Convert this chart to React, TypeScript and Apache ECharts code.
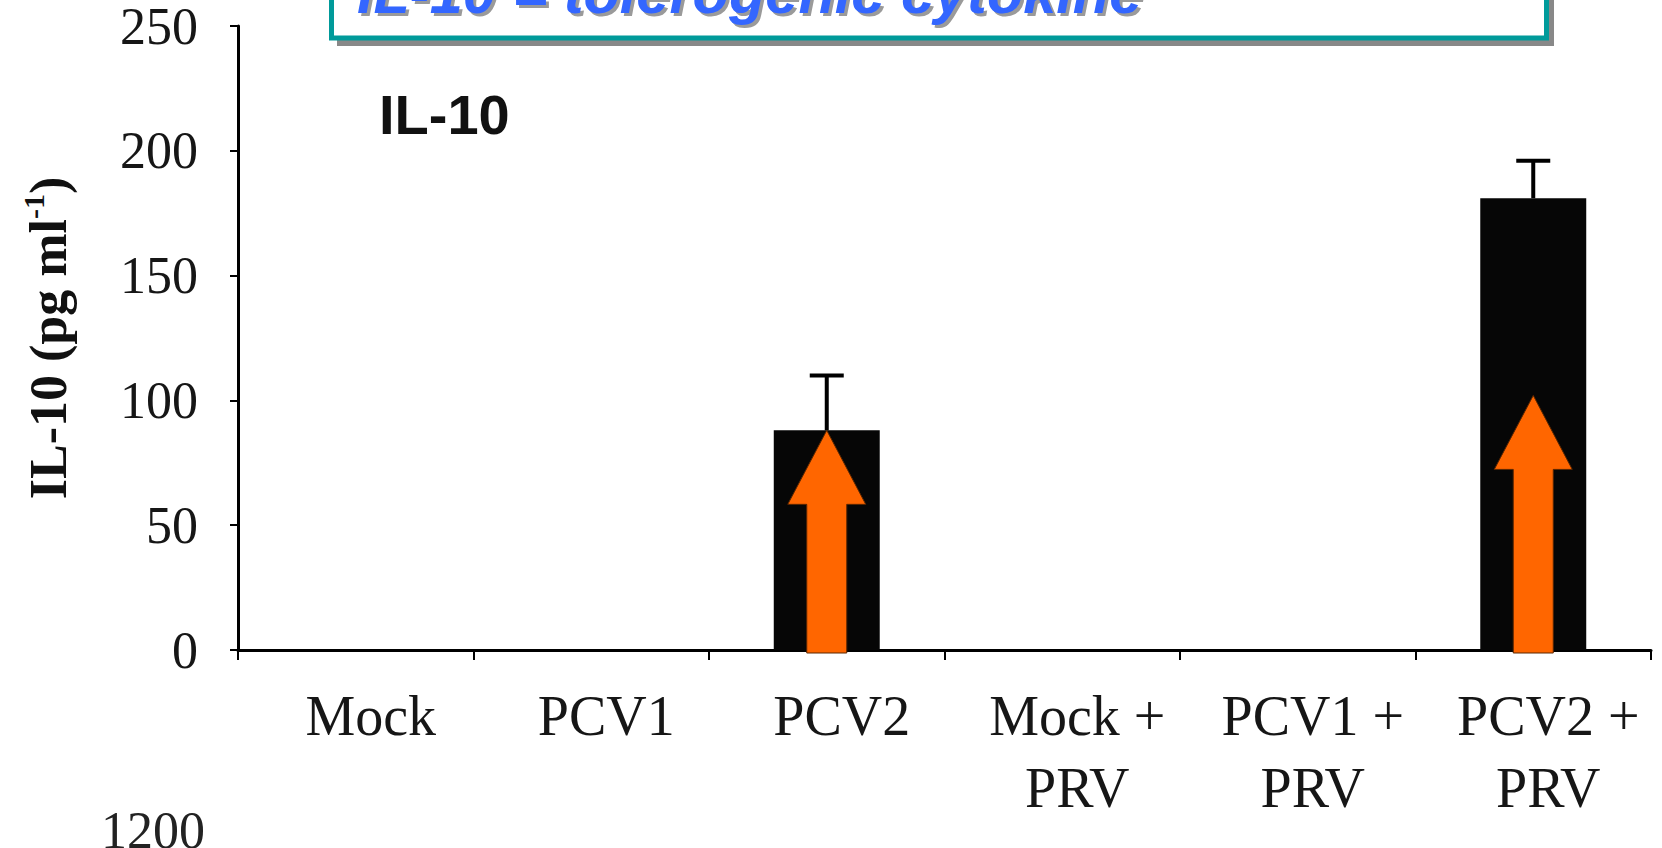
import React, { useEffect, useRef } from "react";
import * as echarts from "echarts";

const categories = ["Mock", "PCV1", "PCV2", "Mock +\nPRV", "PCV1 +\nPRV", "PCV2 +\nPRV"];
const il10Mean = [0, 0, 88, 0, 0, 181];
const il10Err = [0, 0, 22, 0, 0, 15];
const arrowTip: (number | null)[] = [null, null, 88, null, null, 102];
const yMin = 0;
const yMax = 250;
const yStep = 50;
const titleText = "IL-10 = tolerogenic cytokine";
const panelLabel = "IL-10";
const strayLabel = "1200";

const SERIF = "'Liberation Serif', 'DejaVu Serif', serif";
const SANS = "'Liberation Sans', Arial, sans-serif";

export default function App() {
  const ref = useRef<HTMLDivElement>(null);

  useEffect(() => {
    if (!ref.current) return;
    const chart = echarts.init(ref.current, undefined, { renderer: "svg" });

    const errData = categories
      .map((_, i) => [i, il10Mean[i], il10Mean[i] + il10Err[i]])
      .filter((d) => il10Err[d[0]] > 0);
    const arrowData = arrowTip
      .map((v, i) => (v == null ? null : [i, v]))
      .filter((d) => d !== null) as number[][];

    const option: any = {
      animation: false,
      backgroundColor: "#ffffff",
      grid: { left: 238, right: 11, top: 19, bottom: 198, containLabel: false },
      xAxis: {
        type: "category",
        data: categories,
        axisLine: { show: true, lineStyle: { color: "#000", width: 3 } },
        axisTick: { show: true, length: 10, lineStyle: { color: "#000", width: 2 } },
        axisLabel: {
          interval: 0,
          fontFamily: SERIF,
          fontSize: 56,
          lineHeight: 72,
          color: "#161616",
          margin: 30,
          padding: [0, 0, 0, 30],
        },
        splitLine: { show: false },
      },
      yAxis: {
        type: "value",
        min: yMin,
        max: yMax,
        interval: yStep,
        name: "{a|IL-10 (pg ml}{s|-1}{a|)}",
        nameLocation: "middle",
        nameGap: 160,
        nameTextStyle: {
          rich: {
            a: { fontFamily: SERIF, fontWeight: "bold", fontSize: 52, color: "#111", lineHeight: 60 },
            s: { fontFamily: SERIF, fontWeight: "bold", fontSize: 30, color: "#111", verticalAlign: "top", lineHeight: 60, padding: [0, 0, 24, 0] },
          },
        },
        axisLine: { show: true, lineStyle: { color: "#000", width: 3 } },
        axisTick: { show: true, length: 8, lineStyle: { color: "#000", width: 2 } },
        axisLabel: {
          fontFamily: SERIF,
          fontSize: 52,
          color: "#161616",
          margin: 40,
          padding: [18, 0, 0, 0],
        },
        splitLine: { show: false },
      },
      series: [
        {
          type: "bar",
          data: il10Mean,
          barWidth: "45%",
          itemStyle: { color: "#060606" },
          z: 2,
        },
        {
          type: "custom",
          data: errData,
          z: 3,
          renderItem: (params: any, api: any) => {
            const i = api.value(0);
            const base = api.coord([i, api.value(1)]);
            const top = api.coord([i, api.value(2)]);
            const cap = 17;
            return {
              type: "group",
              children: [
                {
                  type: "line",
                  shape: { x1: base[0], y1: base[1], x2: top[0], y2: top[1] },
                  style: { stroke: "#000", lineWidth: 4 },
                },
                {
                  type: "line",
                  shape: { x1: top[0] - cap, y1: top[1], x2: top[0] + cap, y2: top[1] },
                  style: { stroke: "#000", lineWidth: 4 },
                },
              ],
            };
          },
        },
        {
          type: "custom",
          data: arrowData,
          z: 4,
          renderItem: (params: any, api: any) => {
            const i = api.value(0);
            const tip = api.coord([i, api.value(1)]);
            const base = api.coord([i, 0]);
            const cx = tip[0];
            const ty = tip[1];
            const head = 74;
            const hw = 39;
            const sw = 20;
            const by = base[1] + 3;
            return {
              type: "polygon",
              shape: {
                points: [
                  [cx, ty],
                  [cx + hw, ty + head],
                  [cx + sw, ty + head],
                  [cx + sw, by],
                  [cx - sw, by],
                  [cx - sw, ty + head],
                  [cx - hw, ty + head],
                ],
              },
              style: { fill: "#FF6600", stroke: "#5a2600", lineWidth: 1 },
            };
          },
        },
      ],
      graphic: [
        {
          type: "rect",
          shape: { x: 337, y: -10, width: 1217, height: 56 },
          style: { fill: "#888888" },
          z: 10,
        },
        {
          type: "rect",
          shape: { x: 331.5, y: -10, width: 1215, height: 48 },
          style: { fill: "#ffffff", stroke: "#009a9a", lineWidth: 5 },
          z: 11,
        },
        {
          type: "text",
          x: 360,
          y: -5,
          style: {
            text: titleText,
            fontFamily: SANS,
            fontStyle: "italic",
            fontWeight: "bold",
            fontSize: 59.5,
            fill: "#9a9a9a",
            verticalAlign: "middle",
            align: "left",
          },
          z: 12,
        },
        {
          type: "text",
          x: 357,
          y: -8,
          style: {
            text: titleText,
            fontFamily: SANS,
            fontStyle: "italic",
            fontWeight: "bold",
            fontSize: 59.5,
            fill: "#3366ff",
            verticalAlign: "middle",
            align: "left",
          },
          z: 13,
        },
        {
          type: "text",
          x: 379,
          y: 114,
          style: {
            text: panelLabel,
            fontFamily: SANS,
            fontWeight: "bold",
            fontSize: 56,
            fill: "#111",
            verticalAlign: "middle",
            align: "left",
          },
          z: 12,
        },
        {
          type: "text",
          x: 101,
          y: 830,
          style: {
            text: strayLabel,
            fontFamily: SERIF,
            fontSize: 52,
            fill: "#222",
            verticalAlign: "middle",
            align: "left",
          },
          z: 12,
        },
      ],
    };

    chart.setOption(option);
    return () => chart.dispose();
  }, []);

  return (
    <div
      ref={ref}
      style={{ position: "fixed", left: 0, top: 0, width: 1662, height: 848 }}
    />
  );
}
